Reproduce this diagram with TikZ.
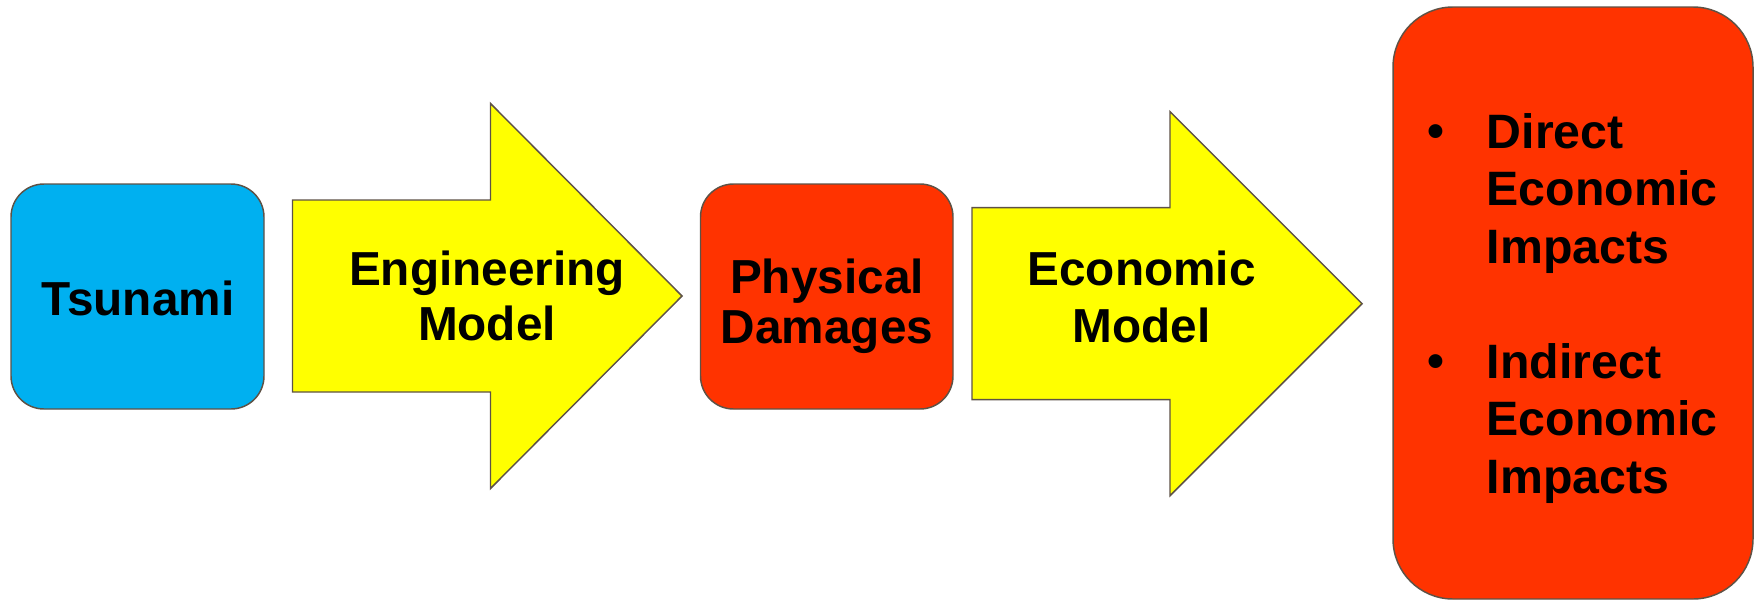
\documentclass[tikz,border=0pt]{standalone}
\usepackage{fontspec}
\setmainfont{Liberation Sans}
\usetikzlibrary{positioning}

\definecolor{edgegray}{RGB}{94,82,70}
\definecolor{tsublue}{RGB}{0,176,240}
\definecolor{dmgred}{RGB}{255,51,0}
\definecolor{mdlyellow}{RGB}{255,255,0}

\tikzset{every picture/.style={line width=1.1pt}}
\tikzset{
  shapeline/.style={draw=edgegray, draw opacity=1, fill opacity=1},
  boxtext/.style={inner sep=0pt, align=center, font=\fontsize{35.8}{42}\selectfont\bfseries},
  listtext/.style={inner sep=0pt, align=left, anchor=north west, font=\fontsize{36.2}{43.1}\selectfont\bfseries},
  bullettext/.style={inner sep=0pt, anchor=base, font=\fontsize{36.2}{43.1}\selectfont\bfseries}
}

\begin{document}
\begin{tikzpicture}[x=0.75pt,y=0.75pt,yscale=-1,xscale=1]
            \useasboundingbox (0,0) rectangle (1756,600); %set diagram 1756 wide, 600 high
            
            %Rounded Rect [id:tsunami]
            \draw [shapeline, fill=tsublue, rounded corners=24.75pt] (11,184) rectangle (264,409) ;
            %Right Arrow [id:engineering]
            \draw [shapeline, fill=mdlyellow] (292.5,200) -- (490.5,200) -- (490.5,103.5) -- (682,296) -- (490.5,488.5) -- (490.5,392) -- (292.5,392) -- cycle ;
            %Rounded Rect [id:damages]
            \draw [shapeline, fill=dmgred, rounded corners=24.75pt] (700.5,184) rectangle (953,409) ;
            %Right Arrow [id:economic]
            \draw [shapeline, fill=mdlyellow] (972,207.7) -- (1170,207.7) -- (1170,111.7) -- (1362,303.7) -- (1170,495.7) -- (1170,399.7) -- (972,399.7) -- cycle ;
            %Rounded Rect [id:impacts]
            \draw [shapeline, fill=dmgred, rounded corners=45pt] (1393,7) rectangle (1753,599) ;
            
            % Text Node
            \node [boxtext] (tsunami) at (138,298.3) {Tsunami};
            % Text Node
            \node [boxtext, font=\fontsize{35.8}{41.25}\selectfont\bfseries] (engmodel) at (487,295.8) {Engineering\\Model};
            % Text Node
            \node [boxtext, font=\fontsize{35.8}{37.5}\selectfont\bfseries] (physdmg) at (827,306.2) {Physical\\Damages};
            % Text Node
            \node [boxtext, font=\fontsize{35.8}{42.75}\selectfont\bfseries] (econmodel) at (1141.5,296.8) {Economic\\Model};
            % Text Node
            \node [listtext] (direct) at (1486,112.5) {Direct\\Economic\\Impacts};
            \node [bullettext] (bulletone) at (1436,147) {\textbullet};
            % Text Node
            \node [listtext] (indirect) at (1486,342.5) {Indirect\\Economic\\Impacts};
            \node [bullettext] (bullettwo) at (1436,377) {\textbullet};
            
\end{tikzpicture}
\end{document}
